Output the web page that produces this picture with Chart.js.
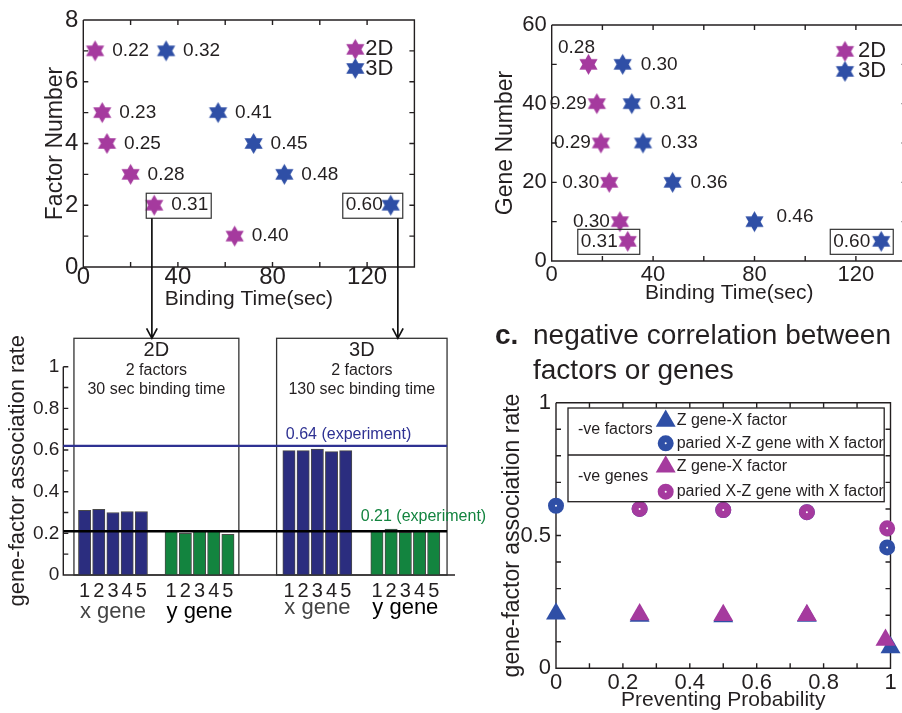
<!DOCTYPE html>
<html>
<head>
<meta charset="utf-8">
<script src="https://cdn.jsdelivr.net/npm/chart.js@4.4.1/dist/chart.umd.min.js"></script>
<style>
  html, body { margin: 0; padding: 0; background: #fff; overflow: hidden; }
  #page { position: relative; width: 902px; height: 713px; overflow: hidden; }
  canvas { position: absolute; }
</style>
</head>
<body>
<div id="page">
  <canvas id="factorChart"  width="430" height="310" style="left:0;top:0"></canvas>
  <canvas id="geneChart"    width="440" height="310" style="left:480px;top:0"></canvas>
  <canvas id="rateChart"    width="500" height="403" style="left:0;top:310px"></canvas>
  <canvas id="preventChart" width="422" height="403" style="left:480px;top:310px"></canvas>
</div>
<script>
// ---- data: factor number vs binding time
const factor2dTime  = [5, 8, 10, 20, 30, 64];
const factor2dCount = [7, 5, 4, 3, 2, 1];
const factor2dRate  = ['0.22', '0.23', '0.25', '0.28', '0.31', '0.40'];
const factor3dTime  = [35, 57, 72, 85, 130];
const factor3dCount = [7, 5, 4, 3, 2];
const factor3dRate  = ['0.32', '0.41', '0.45', '0.48', '0.60'];

// ---- data: gene number vs binding time
const gene2dTime  = [14.5, 17.8, 19.4, 22.7, 26.9, 30];
const gene2dCount = [50, 40, 30, 20, 10, 5];
const gene2dRate  = ['0.28', '0.29', '0.29', '0.30', '0.30', '0.31'];
const gene3dTime  = [28, 31.6, 36, 47.7, 80, 130];
const gene3dCount = [50, 40, 30, 20, 10, 5];
const gene3dRate  = ['0.30', '0.31', '0.33', '0.36', '0.46', '0.60'];

// ---- data: association rate bars
const geneIndex  = ['1', '2', '3', '4', '5'];
const geneNames  = ['x gene', 'y gene', 'x gene', 'y gene'];
const groupStart = [1.5, 7.6, 15.9, 22.1];
const rate2dX = [0.31, 0.315, 0.30, 0.305, 0.305];
const rate2dY = [0.21, 0.20, 0.21, 0.21, 0.195];
const rate3dX = [0.597, 0.597, 0.605, 0.592, 0.597];
const rate3dY = [0.21, 0.22, 0.205, 0.21, 0.21];
const boxTitles = ['2D', '3D'];
const boxLines  = [['2 factors', '30 sec binding time'], ['2 factors', '130 sec binding time']];
const expXLevel = 0.62, expXText = '0.64 (experiment)';
const expYLevel = 0.21, expYText = '0.21 (experiment)';
const arrowAt   = [29, 133];

// ---- data: negative correlation
const factorTriProb  = [0, 0.25, 0.5, 0.75, 1];
const factorTriRate  = [0.205, 0.197, 0.195, 0.197, 0.078];
const factorPairProb = [0, 0.25, 0.5, 0.75, 0.99];
const factorPairRate = [0.612, 0.6, 0.596, 0.588, 0.455];
const geneTriProb    = [0.25, 0.5, 0.75, 0.985];
const geneTriRate    = [0.203, 0.2, 0.2, 0.107];
const genePairProb   = [0.25, 0.5, 0.75, 0.99];
const genePairRate   = [0.6, 0.596, 0.588, 0.527];

const FONT = "'Liberation Sans', Arial, Helvetica, sans-serif";
const INK = '#231f20';
const MAGENTA = '#a53a9e';
const BLUE = '#2f4fa6';
const NAVY = '#2b2d7f';
const GREEN = '#13843f';
const LINE_BLUE = '#2e3192';

Chart.defaults.font.family = FONT;
Chart.defaults.color = INK;

const pts = (xs, ys) => xs.map((x, i) => ({ x, y: ys[i] }));

function hexagram(color, r) {
  const c = document.createElement('canvas');
  const s = Math.ceil(r * 2 + 2);
  c.width = c.height = s;
  const g = c.getContext('2d');
  g.translate(s / 2, s / 2);
  g.beginPath();
  for (let k = 0; k < 12; k++) {
    const a  = -Math.PI / 2 + k * Math.PI / 6;
    const rr = k % 2 ? r / Math.sqrt(3) : r;
    g.lineTo(Math.cos(a) * rr, Math.sin(a) * rr);
  }
  g.closePath();
  g.fillStyle = color;
  g.fill();
  return c;
}
const star2d = hexagram(MAGENTA, 10.5);
const star3d = hexagram(BLUE, 10.5);

// matlab style frame with inward ticks
const matlabAxes = {
  id: 'matlabAxes',
  beforeDatasetsDraw(chart, args, o) {
    const { ctx, chartArea: a, scales: { x, y } } = chart;
    const t = 5;
    ctx.save();
    ctx.strokeStyle = INK;
    ctx.lineWidth = 1.4;
    ctx.beginPath();
    ctx.moveTo(a.left, a.top);
    ctx.lineTo(a.left, a.bottom);
    ctx.lineTo(a.right, a.bottom);
    if (o.box) { ctx.lineTo(a.right, a.top); ctx.lineTo(a.left, a.top); }
    if (o.xTicks !== false) {
      x.ticks.forEach(tk => {
        const px = x.getPixelForValue(tk.value);
        ctx.moveTo(px, a.bottom); ctx.lineTo(px, a.bottom - t);
        if (o.box) { ctx.moveTo(px, a.top); ctx.lineTo(px, a.top + t); }
      });
    }
    y.ticks.forEach(tk => {
      const py = y.getPixelForValue(tk.value);
      ctx.moveTo(a.left, py); ctx.lineTo(a.left + t, py);
      if (o.box) { ctx.moveTo(a.right, py); ctx.lineTo(a.right - t, py); }
    });
    ctx.stroke();
    ctx.restore();
  }
};

// rate labels next to stars, boxes, legend, arrow stems
const starLabels = {
  id: 'starLabels',
  afterDatasetsDraw(chart, args, o) {
    const { ctx, scales: { x, y } } = chart;
    ctx.save();
    ctx.textBaseline = 'middle';
    ctx.strokeStyle = '#333';
    chart.data.datasets.forEach((ds, di) => {
      chart.getDatasetMeta(di).data.forEach((pt, i) => {
        const text = ds.rateLabels[i];
        const p = ds.place(i);
        ctx.font = o.size + 'px ' + FONT;
        ctx.fillStyle = INK;
        const w = ctx.measureText(text).width;
        const tx = p.side === 'right' ? pt.x + p.dx
                 : p.side === 'left'  ? pt.x + p.dx - w
                 : pt.x + p.dx - w / 2;
        ctx.fillText(text, tx, pt.y + (p.dy || 0));
        if (i === ds.boxed) {
          const l = Math.min(tx - 3, pt.x - 8);
          const r = Math.max(tx + w + 3, pt.x + 12);
          ctx.lineWidth = 1.2;
          ctx.strokeRect(l, pt.y - 12, r - l, 25);
        }
      });
      const lx = x.getPixelForValue(o.legendX);
      const ly = y.getPixelForValue(o.legendY[di]);
      const img = ds.pointStyle;
      ctx.drawImage(img, lx - img.width / 2, ly - img.height / 2);
      ctx.font = '22px ' + FONT;
      ctx.fillStyle = INK;
      ctx.fillText(ds.label, lx + o.legendGap, ly);
    });
    if (o.arrows) {
      ctx.strokeStyle = '#111';
      ctx.lineWidth = 1.7;
      const top = y.getPixelForValue(o.arrowFrom) + 13;
      o.arrows.forEach(v => {
        const px = x.getPixelForValue(v);
        ctx.beginPath(); ctx.moveTo(px, top); ctx.lineTo(px, chart.height); ctx.stroke();
      });
    }
    ctx.restore();
  }
};

function bindingOptions(cfg) {
  return {
    responsive: false,
    animation: false,
    events: [],
    layout: { padding: cfg.padding },
    plugins: { legend: { display: false }, tooltip: { enabled: false }, matlabAxes: { box: true }, starLabels: cfg.labels },
    scales: {
      x: {
        type: 'linear', min: 0, max: 140,
        grid: { display: false, drawTicks: false }, border: { display: false },
        ticks: { stepSize: 20, autoSkip: false, maxRotation: 0, padding: cfg.xTickPad, font: { size: cfg.tickSize },
                 callback: v => (v % 40 === 0 && v < 140 ? String(v) : '') },
        title: { display: true, text: 'Binding Time(sec)', font: { size: 21, lineHeight: 1 }, padding: { top: 0, bottom: cfg.xTitlePad } },
        afterFit: s => { s.height = cfg.xHeight; },
      },
      y: {
        min: 0, max: cfg.yMax,
        grid: { display: false, drawTicks: false }, border: { display: false },
        ticks: { stepSize: cfg.yStep, autoSkip: false, padding: 5, font: { size: cfg.tickSize },
                 callback: v => (Math.round(v / cfg.yStep) % 2 === 0 ? String(v) : '') },
        title: { display: true, text: cfg.yTitle, font: { size: 23, lineHeight: 1 }, padding: { top: cfg.yTitlePad, bottom: 0 } },
        afterFit: s => { s.width = cfg.yWidth; },
      },
    },
  };
}

const factorChart = new Chart(document.getElementById('factorChart'), {
  type: 'scatter',
  data: {
    datasets: [
      { label: '2D', data: pts(factor2dTime, factor2dCount), pointStyle: star2d, pointRadius: 10,
        rateLabels: factor2dRate, boxed: 4, place: () => ({ side: 'right', dx: 17 }) },
      { label: '3D', data: pts(factor3dTime, factor3dCount), pointStyle: star3d, pointRadius: 10,
        rateLabels: factor3dRate, boxed: 4, place: i => (i === 4 ? { side: 'left', dx: -8 } : { side: 'right', dx: 17 }) },
    ],
  },
  options: bindingOptions({
    padding: { left: 0, top: 20, right: 15.6, bottom: 0 },
    xHeight: 43, yWidth: 83.3, yMax: 8, yStep: 1, tickSize: 24, xTickPad: -4,
    yTitle: 'Factor Number', yTitlePad: 44, xTitlePad: 0,
    labels: { size: 19, legendX: 115, legendY: [7.05, 6.43], legendGap: 10, arrows: arrowAt, arrowFrom: 2 },
  }),
  plugins: [matlabAxes, starLabels],
});

new Chart(document.getElementById('geneChart'), {
  type: 'scatter',
  data: {
    datasets: [
      { label: '2D', data: pts(gene2dTime, gene2dCount), pointStyle: star2d, pointRadius: 10,
        rateLabels: gene2dRate, boxed: 5, place: i => (i === 0 ? { side: 'center', dx: -12, dy: -17 } : { side: 'left', dx: -10 }) },
      { label: '3D', data: pts(gene3dTime, gene3dCount), pointStyle: star3d, pointRadius: 10,
        rateLabels: gene3dRate, boxed: 5,
        place: i => (i === 5 ? { side: 'left', dx: -11 } : i === 4 ? { side: 'right', dx: 22, dy: -5 } : { side: 'right', dx: 18 }) },
    ],
  },
  options: bindingOptions({
    padding: { left: 0, top: 25, right: 13.4, bottom: 0 },
    xHeight: 49, yWidth: 71.7, yMax: 60, yStep: 10, tickSize: 22, xTickPad: 1,
    yTitle: 'Gene Number', yTitlePad: 14.5, xTitlePad: 6.5,
    labels: { size: 19, legendX: 115.7, legendY: [53.3, 48.2], legendGap: 13 },
  }),
  plugins: [matlabAxes, starLabels],
});

// ---- association rate bars
const barGroups = [
  { vals: rate2dX, color: NAVY },
  { vals: rate2dY, color: GREEN },
  { vals: rate3dX, color: NAVY },
  { vals: rate3dY, color: GREEN },
];

const rateNotes = {
  id: 'rateNotes',
  afterDatasetsDraw(chart, args, o) {
    const { ctx, chartArea: a, scales: { x, y } } = chart;
    const boxTop = a.top - 28.4;
    ctx.save();
    ctx.textBaseline = 'middle';

    // 2D / 3D boxes
    o.boxes.forEach((b, k) => {
      const l = x.getPixelForValue(b[0]), r = x.getPixelForValue(b[1]);
      ctx.strokeStyle = '#333'; ctx.lineWidth = 1.3;
      ctx.strokeRect(l, boxTop, r - l, a.bottom - boxTop);
      const cx = (l + r) / 2;
      ctx.fillStyle = INK; ctx.textAlign = 'center';
      ctx.font = '20px ' + FONT;
      ctx.fillText(boxTitles[k], cx, boxTop + 12.4);
      ctx.font = '16px ' + FONT;
      boxLines[k].forEach((t, n) => ctx.fillText(t, cx, boxTop + 32.7 + n * 19));
    });

    // experiment levels
    const lineEnd = x.getPixelForValue(o.boxes[1][1]);
    o.levels.forEach(L => {
      const py = y.getPixelForValue(L.value);
      ctx.strokeStyle = L.color; ctx.lineWidth = 2.4;
      ctx.beginPath(); ctx.moveTo(a.left, py); ctx.lineTo(lineEnd, py); ctx.stroke();
      ctx.fillStyle = L.textColor; ctx.textAlign = 'left';
      ctx.font = '16px ' + FONT;
      ctx.fillText(L.text, x.getPixelForValue(L.textAt), py - L.lift);
    });

    // gene numbers and group names
    chart.data.datasets.forEach((ds, di) => {
      const bars = chart.getDatasetMeta(di).data;
      ctx.fillStyle = INK; ctx.textAlign = 'center';
      ctx.font = '20px ' + FONT;
      bars.forEach((b, i) => ctx.fillText(geneIndex[i], b.x, a.bottom + 16.7));
      const mid = (bars[0].x + bars[bars.length - 1].x) / 2;
      ctx.font = '22px ' + FONT;
      ctx.fillStyle = di % 2 ? '#000' : '#444';
      ctx.fillText(geneNames[di], mid, a.bottom + (di < 2 ? 36.7 : 32.7));
    });

    // arrows coming down from the binding-time panel
    ctx.strokeStyle = '#111'; ctx.lineWidth = 1.7;
    arrowAt.forEach(v => {
      const px = factorChart.scales.x.getPixelForValue(v);
      ctx.beginPath();
      ctx.moveTo(px, 0); ctx.lineTo(px, boxTop);
      ctx.moveTo(px - 5.3, boxTop - 10); ctx.lineTo(px, boxTop); ctx.lineTo(px + 5.3, boxTop - 10);
      ctx.stroke();
    });
    ctx.restore();
  }
};

new Chart(document.getElementById('rateChart'), {
  type: 'bar',
  data: {
    datasets: barGroups.map((g, k) => ({
      data: g.vals.map((v, i) => ({ x: groupStart[k] + i, y: v })),
      backgroundColor: g.color,
      borderColor: '#4a4a4a',
      borderWidth: 1,
      barThickness: 12.3,
      grouped: false,
    })),
  },
  options: {
    responsive: false,
    animation: false,
    events: [],
    layout: { padding: { left: 0, top: 56.7, right: 45, bottom: 0 } },
    plugins: {
      legend: { display: false }, tooltip: { enabled: false },
      matlabAxes: { box: false, xTicks: false },
      rateNotes: {
        boxes: [[0.75, 12.37], [15.03, 27.04]],
        levels: [
          { value: expXLevel, text: expXText, color: LINE_BLUE, textColor: LINE_BLUE, textAt: 15.68, lift: 11.3 },
          { value: expYLevel, text: expYText, color: '#000', textColor: GREEN, textAt: 20.96, lift: 15 },
        ],
      },
    },
    scales: {
      x: {
        type: 'linear', min: 0, max: 27.6, offset: false,
        grid: { display: false, drawTicks: false }, border: { display: false },
        ticks: { display: false },
        afterFit: s => { s.height = 138; },
      },
      y: {
        min: 0, max: 1,
        grid: { display: false, drawTicks: false }, border: { display: false },
        ticks: { stepSize: 0.1, autoSkip: false, padding: 4, font: { size: 19 },
                 callback: v => (Math.round(v * 10) % 2 === 0 ? String(+v.toFixed(1)) : '') },
        title: { display: true, text: 'gene-factor association rate', font: { size: 22, lineHeight: 1 }, padding: { top: 7, bottom: 0 } },
        afterFit: s => { s.width = 63.3; },
      },
    },
  },
  plugins: [matlabAxes, rateNotes],
});

// ---- negative correlation panel
const correlationNotes = {
  id: 'correlationNotes',
  afterDatasetsDraw(chart, args, o) {
    const { ctx, chartArea: a } = chart;
    const ds = chart.data.datasets;
    ctx.save();
    ctx.textBaseline = 'middle';
    ctx.textAlign = 'left';
    ctx.fillStyle = INK;
    ctx.font = 'bold 28px ' + FONT;
    ctx.fillText('c.', 15, 26.7);
    ctx.font = '28px ' + FONT;
    o.title.forEach((t, n) => ctx.fillText(t, 53, 26.7 + n * 34.3));

    // legend
    const L = a.left + 12, R = a.right - 6.3, T = a.top + 5.3, B = a.top + 99, D = a.top + 52.3;
    ctx.fillStyle = '#fff';
    ctx.fillRect(L, T, R - L, B - T);
    ctx.strokeStyle = INK; ctx.lineWidth = 1.3;
    ctx.strokeRect(L, T, R - L, B - T);
    ctx.beginPath(); ctx.moveTo(L, D); ctx.lineTo(R, D); ctx.stroke();
    const rows = [
      { name: '-ve factors', y: a.top + 27.3, tri: ds[2], circ: ds[3], ty: a.top + 18.3, cy: a.top + 40.6 },
      { name: '-ve genes',   y: a.top + 74,   tri: ds[0], circ: ds[1], ty: a.top + 64,   cy: a.top + 89 },
    ];
    ctx.font = '16px ' + FONT;
    rows.forEach(r => {
      ctx.fillStyle = INK;
      ctx.fillText(r.name, L + 10, r.y);
      [[r.tri, r.ty], [r.circ, r.cy]].forEach(([d, yy]) => {
        ctx.fillStyle = d.pointBackgroundColor;
        ctx.strokeStyle = d.pointBorderColor;
        ctx.lineWidth = d.pointBorderWidth;
        Chart.helpers.drawPoint(ctx, { pointStyle: d.pointStyle, radius: d.pointRadius, borderWidth: d.pointBorderWidth, rotation: 0 }, a.left + 109.7, yy);
        ctx.fillStyle = INK;
        ctx.fillText(d.label, a.left + 120.7, yy);
      });
    });
    ctx.restore();
  }
};

const triSet  = (label, xs, ys, color) => ({ label, data: pts(xs, ys), pointStyle: 'triangle', pointRadius: 11.5,
  pointBackgroundColor: color, pointBorderColor: color, pointBorderWidth: 0, clip: false });
const circSet = (label, xs, ys, color) => ({ label, data: pts(xs, ys), pointStyle: 'circle', pointRadius: 4.5,
  pointBackgroundColor: '#fff', pointBorderColor: color, pointBorderWidth: 7, clip: false });

new Chart(document.getElementById('preventChart'), {
  type: 'scatter',
  data: {
    datasets: [
      triSet('Z gene-X factor', geneTriProb, geneTriRate, MAGENTA),
      circSet('paried X-Z gene with X factor', genePairProb, genePairRate, MAGENTA),
      triSet('Z gene-X factor', factorTriProb, factorTriRate, BLUE),
      circSet('paried X-Z gene with X factor', factorPairProb, factorPairRate, BLUE),
    ],
  },
  options: {
    responsive: false,
    animation: false,
    events: [],
    layout: { padding: { left: 0, top: 92.7, right: 7.7, bottom: 0 } },
    plugins: {
      legend: { display: false }, tooltip: { enabled: false },
      matlabAxes: { box: true },
      correlationNotes: { title: ['negative correlation between', 'factors or genes'] },
    },
    scales: {
      x: {
        type: 'linear', min: 0, max: 1,
        grid: { display: false, drawTicks: false }, border: { display: false },
        ticks: { stepSize: 0.1, autoSkip: false, maxRotation: 0, padding: 1, font: { size: 22 },
                 callback: v => (Math.round(v * 10) % 2 === 0 ? String(+v.toFixed(1)) : '') },
        title: { display: true, text: 'Preventing Probability', font: { size: 21, lineHeight: 1 }, padding: { top: 0, bottom: 2.5 } },
        afterFit: s => { s.height = 44.7; },
      },
      y: {
        min: 0, max: 1,
        grid: { display: false, drawTicks: false }, border: { display: false },
        ticks: { stepSize: 0.1, autoSkip: false, padding: 5, font: { size: 22 },
                 callback: v => (Math.round(v * 10) % 5 === 0 ? String(+v.toFixed(1)) : '') },
        title: { display: true, text: 'gene-factor association rate', font: { size: 23, lineHeight: 1 }, padding: { top: 21.5, bottom: 0 } },
        afterFit: s => { s.width = 76; },
      },
    },
  },
  plugins: [matlabAxes, correlationNotes],
});
</script>
</body>
</html>
